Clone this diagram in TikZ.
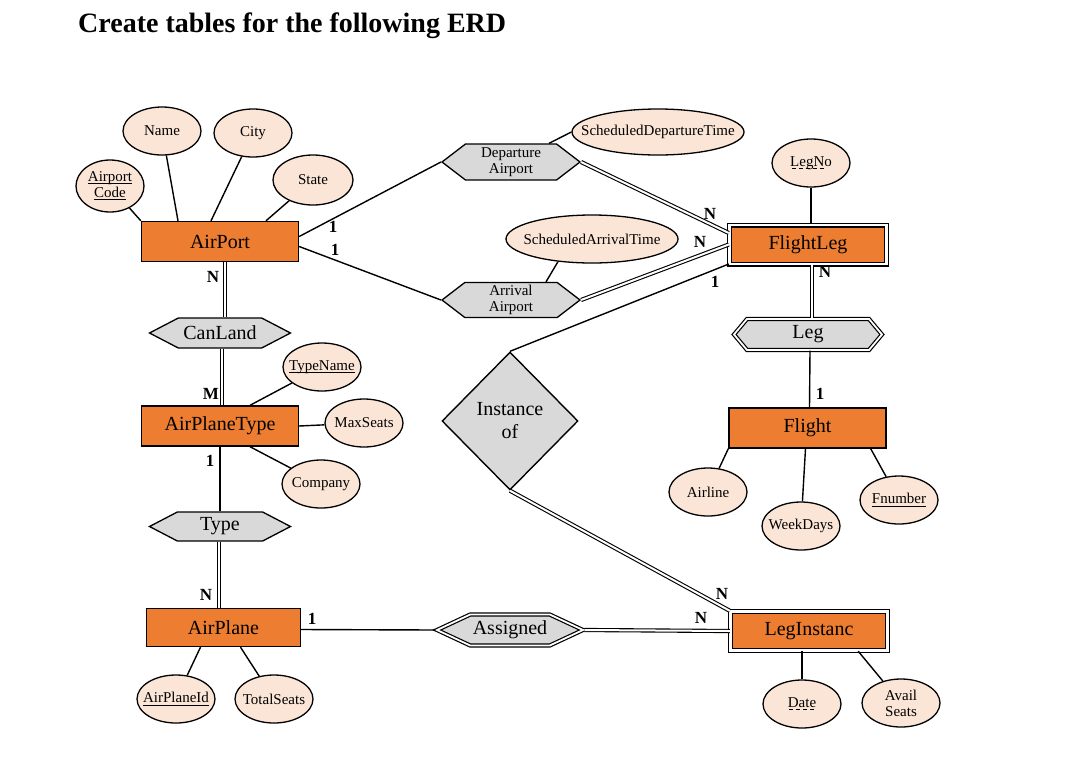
\documentclass[tikz,border=0pt]{standalone}
\usepackage{fontspec}
\setmainfont{Liberation Serif}
\usetikzlibrary{shapes.geometric,shapes.symbols}
\definecolor{entc}{HTML}{ED7D31}
\definecolor{attc}{HTML}{FBE5D6}
\definecolor{relc}{HTML}{D9D9D9}
\newcommand\zw[1]{\makebox[0pt][c]{#1}}
\newcommand\myul[1]{\leavevmode\setbox0\hbox{#1}\rlap{\raisebox{-2.5pt}{\rule{\wd0}{0.8pt}}}\box0}
\newcommand\mydashul[1]{\leavevmode\setbox0\hbox{#1}\rlap{\raisebox{-3pt}{\hbox to\wd0{\leaders\hbox to 7pt{\hss\rule{4pt}{1.1pt}\hss}\hfill}}}\box0}
\tikzset{
  entity/.style={draw, line width=1.4pt, fill=entc, minimum width=157pt, minimum height=40pt, inner sep=0pt, font=\fontsize{20}{23}\selectfont},
  wentity/.style={entity, double, double distance=2.2pt, line width=1.4pt, minimum height=39pt},
  attr/.style={ellipse, draw, line width=1.3pt, fill=attc, minimum width=78pt, minimum height=48pt, inner sep=0pt, font=\fontsize{15}{17}\selectfont, align=center},
  relbox/.style={signal, signal to=west and east, draw, line width=1.3pt, fill=relc, inner sep=0pt, font=\fontsize{20}{23}\selectfont, align=center},
  wrel/.style={relbox, double, double distance=1.8pt, line width=1.2pt},
  conn/.style={line width=1.4pt},
  dconn/.style={line width=1.1pt, double, double distance=2pt},
  card/.style={font=\bfseries\fontsize{17}{19}\selectfont, inner sep=0pt}
}
\begin{document}
\begin{tikzpicture}[x=1pt, y=-1pt]
\useasboundingbox (0,0) rectangle (1076,761);
\node[anchor=west, font=\bfseries\fontsize{28}{32}\selectfont, inner sep=0pt] (title) at (78,26) {Create tables for the following ERD};

% entities
\node[entity] (ap) at (220,241.5) {AirPort};
\node[wentity] (fl) at (808,244.5) {FlightLeg};
\node[entity] (apt) at (220,426) {AirPlaneType};
\node[entity] (flt) at (807.5,428) {Flight};
\node[entity, minimum width=154pt, minimum height=38pt] (apl) at (223.5,627.5) {AirPlane};
\node[wentity] (li) at (809,631) {LegInstanc};

% attributes
\node[attr, minimum width=68pt, minimum height=52pt] (ac) at (110,186) {\zw{\myul{Airport}}\\[-1pt]\zw{\myul{Code}}};
\node[attr] (nm) at (162,131) {\zw{Name}};
\node[attr] (ct) at (253,133) {\zw{City}};
\node[attr, minimum width=80pt, minimum height=50pt] (st) at (313,180) {\zw{State}};
\node[attr, minimum width=172pt, minimum height=46pt] (sdt) at (658,132) {\zw{ScheduledDepartureTime}};
\node[attr, minimum width=172pt, minimum height=48pt] (sat) at (592,239) {\zw{ScheduledArrivalTime}};
\node[attr] (ln) at (811,163) {\zw{\mydashul{LegNo}}};
\node[attr] (tn) at (322,367) {\zw{\myul{TypeName}}};
\node[attr] (ms) at (364,423) {\zw{MaxSeats}};
\node[attr] (cp) at (321,484) {\zw{Company}};
\node[attr] (al) at (708,492) {\zw{Airline}};
\node[attr] (wd) at (801,526) {\zw{WeekDays}};
\node[attr] (fn) at (899,500) {\zw{\myul{Fnumber}}};
\node[attr] (aid) at (176,699) {\zw{\myul{AirPlaneId}}};
\node[attr] (ts) at (274,699) {\zw{TotalSeats}};
\node[attr] (dt) at (802,704) {\zw{\mydashul{Date}}};
\node[attr] (av) at (901,703) {\zw{Avail}\\[-1pt]\zw{Seats}};

% relationships
\node[relbox, minimum width=138pt, minimum height=36pt, signal pointer angle=75, font=\fontsize{15}{16}\selectfont] (dep) at (511,162) {Departure\\Airport};
\node[relbox, minimum width=138pt, minimum height=35pt, signal pointer angle=75, font=\fontsize{15}{16}\selectfont] (arr) at (511,300) {Arrival\\Airport};
\node[relbox, minimum width=141pt, minimum height=30pt, signal pointer angle=55] (cl) at (220,333) {CanLand};
\node[relbox, minimum width=141pt, minimum height=29pt, signal pointer angle=55] (typ) at (220,526.5) {Type};
\node[wrel, minimum width=148pt, minimum height=31pt, signal pointer angle=100] (leg) at (808,334.5) {Leg};
\node[wrel, minimum width=146pt, minimum height=31pt, signal pointer angle=50] (asg) at (510,630) {Assigned};
\node[diamond, draw, line width=1.4pt, fill=relc, minimum width=136pt, minimum height=138pt, inner sep=0pt, align=center, font=\fontsize{20}{23}\selectfont] (inst) at (510,421) {Instance\\of};

% attribute links
\draw[conn] (ac) -- (ap.north west);
\draw[conn] (nm) -- ([xshift=-42pt]ap.north);
\draw[conn] (ct) -- ([xshift=-9pt]ap.north);
\draw[conn] (st) -- ([xshift=46pt]ap.north);
\draw[conn] ([xshift=38pt]dep.north) -- (sdt.west);
\draw[conn] ([xshift=35pt]arr.north) -- ([xshift=-34pt,yshift=2pt]sat.south);
\draw[conn] (ln) -- (ln |- fl.north);
\draw[conn] (tn) -- ([xshift=30pt]apt.north);
\draw[conn] (ms) -- (apt.east);
\draw[conn] (cp) -- ([xshift=30pt]apt.south);
\draw[conn] (al) -- (flt.south west);
\draw[conn] (wd) -- ([xshift=-2pt]flt.south);
\draw[conn] (fn) -- ([xshift=-16pt]flt.south east);
\draw[conn] (aid) -- ([xshift=-23pt]apl.south);
\draw[conn] (ts) -- ([xshift=17pt]apl.south);
\draw[conn] (dt) -- (dt |- li.south);
\draw[conn] (av) -- ([xshift=-30pt]li.south east);

% relationship links
\draw[conn] ([yshift=5pt]ap.east) -- (dep.west);
\draw[conn] ([yshift=-5pt]ap.east) -- (arr.west);
\draw[dconn] (dep.east) -- ([yshift=11.5pt]fl.west);
\draw[dconn] (arr.east) -- (fl.west);
\draw[conn] ([yshift=-19.5pt]fl.west) -- (inst.north);
\draw[dconn] ([xshift=4pt]fl.south) -- ([xshift=4pt]leg.north);
\draw[conn] ([xshift=2pt]leg.south) -- ([xshift=2pt]flt.north);
\draw[dconn] (inst.south) -- (li.north west);
\draw[dconn] (asg.east) -- (li.west);
\draw[conn] ([yshift=-2pt]apl.east) -- (asg.west);
\draw[dconn] ([xshift=5pt]ap.south) -- ([xshift=5pt]cl.north);
\draw[dconn] ([xshift=2pt]cl.south) -- ([xshift=2pt]apt.north);
\draw[conn] (apt.south) -- (typ.north);
\draw[dconn] ([xshift=-1pt]typ.south) -- ([xshift=-1pt]typ.south |- apl.north);

% cardinalities
\node[card] (c1) at (333,227) {1};
\node[card] (c2) at (335,250) {1};
\node[card] (c3) at (710,214) {N};
\node[card] (c4) at (700,242) {N};
\node[card] (c5) at (715,282) {1};
\node[card] (c6) at (825,272) {N};
\node[card] (c7) at (820,394) {1};
\node[card] (c8) at (213,277) {N};
\node[card] (c9) at (211,394) {M};
\node[card] (c10) at (210,461) {1};
\node[card] (c11) at (206,595) {N};
\node[card] (c12) at (312,619) {1};
\node[card] (c13) at (722,594) {N};
\node[card] (c14) at (701,618) {N};
\end{tikzpicture}
\end{document}
